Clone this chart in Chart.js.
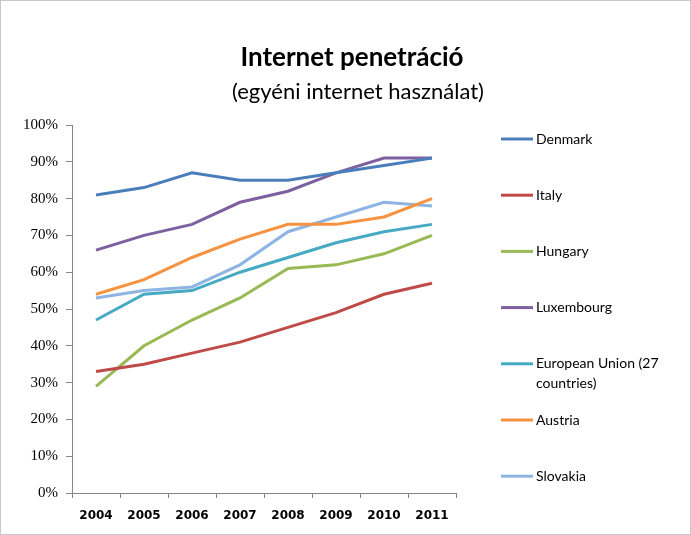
<!DOCTYPE html>
<html>
<head>
<meta charset="utf-8">
<script src="https://cdn.jsdelivr.net/npm/chart.js@4"></script>
<style>
  html, body { margin: 0; padding: 0; background: #fff; }
  #wrap { position: relative; width: 689px; height: 533px; border: 1px solid #c8c8c8; }
</style>
</head>
<body>
<div id="wrap"><canvas id="chart" width="689" height="533"></canvas></div>
<script>
// DATA -----------------------------------------------------------------------

const years = ['2004', '2005', '2006', '2007', '2008', '2009', '2010', '2011']

const denmark    = [81, 83, 87, 85, 85, 87, 89, 91]
const italy      = [33, 35, 38, 41, 45, 49, 54, 57]
const hungary    = [29, 40, 47, 53, 61, 62, 65, 70]
const luxembourg = [66, 70, 73, 79, 82, 87, 91, 91]
const eu27       = [47, 54, 55, 60, 64, 68, 71, 73]
const austria    = [54, 58, 64, 69, 73, 73, 75, 80]
const slovakia   = [53, 55, 56, 62, 71, 75, 79, 78]

const yTicks = [0, 10, 20, 30, 40, 50, 60, 70, 80, 90, 100]

const titleText = 'Internet penetráció'
const subtitleText = '(egyéni internet használat)'

// SETTINGS -------------------------------------------------------------------

const series = [
    {name: 'Denmark', data: denmark, color: '#4A7EBB'},
    {name: 'Italy', data: italy, color: '#BE4B48'},
    {name: 'Hungary', data: hungary, color: '#98B954'},
    {name: 'Luxembourg', data: luxembourg, color: '#7D60A0'},
    {name: 'European Union (27 countries)', data: eu27, color: '#46AAC5'},
    {name: 'Austria', data: austria, color: '#F69240'},
    {name: 'Slovakia', data: slovakia, color: '#8EB4E3'}
]

const fontFamily = 'Lato, "Liberation Sans", sans-serif'
const axisColor = '#868686'

// title block, centred over the whole picture like the original
const titleBlock = {
    id: 'titleBlock',
    afterDraw(chart) {
        const ctx = chart.ctx
        ctx.save()
        ctx.fillStyle = '#000'
        ctx.textAlign = 'center'
        ctx.textBaseline = 'middle'
        ctx.font = `bold 26px ${fontFamily}`
        ctx.fillText(titleText, 351, 57)
        ctx.font = `22px ${fontFamily}`
        ctx.fillText(subtitleText, 357, 91)
        ctx.restore()
    }
}

// legend on the right, one entry per series
const sideLegend = {
    id: 'sideLegend',
    afterDraw(chart) {
        const ctx = chart.ctx
        const area = chart.chartArea
        const x0 = area.right + 45
        const step = 56.2
        ctx.save()
        ctx.font = `14px ${fontFamily}`
        ctx.fillStyle = '#000'
        ctx.textBaseline = 'middle'
        chart.data.datasets.forEach((ds, i) => {
            const y = area.top + 14 + i * step
            ctx.strokeStyle = ds.borderColor
            ctx.lineWidth = 3
            ctx.beginPath()
            ctx.moveTo(x0, y)
            ctx.lineTo(x0 + 32, y)
            ctx.stroke()
            // simple word wrap
            const maxW = 150
            const words = ds.label.split(' ')
            let line = ''
            let ly = y
            words.forEach(w => {
                const test = line ? line + ' ' + w : w
                if (ctx.measureText(test).width > maxW && line) {
                    ctx.fillText(line, x0 + 35, ly)
                    line = w
                    ly += 20
                } else {
                    line = test
                }
            })
            ctx.fillText(line, x0 + 35, ly)
        })
        ctx.restore()
    }
}

// CHART ----------------------------------------------------------------------

new Chart(document.getElementById('chart'), {
    type: 'line',
    data: {
        labels: years,
        datasets: series.map(s => ({
            label: s.name,
            data: s.data,
            borderColor: s.color,
            backgroundColor: s.color,
            borderWidth: 3,
            pointRadius: 0,
            tension: 0
        }))
    },
    options: {
        responsive: false,
        animation: false,
        layout: {
            padding: {left: 9, right: 234, top: 124, bottom: 8}
        },
        plugins: {
            legend: {display: false},
            tooltip: {enabled: false},
            title: {display: false}
        },
        scales: {
            x: {
                offset: true,
                grid: {
                    offset: true,
                    drawOnChartArea: false,
                    drawTicks: true,
                    tickLength: 5,
                    color: axisColor
                },
                border: {color: axisColor, width: 1},
                ticks: {
                    color: '#000',
                    padding: 11,
                    maxRotation: 0,
                    font: {family: '"DejaVu Sans", sans-serif', size: 12, weight: 'bold'}
                },
                afterFit(scale) { scale.height = 33 }
            },
            y: {
                min: 0,
                max: 100,
                afterBuildTicks(scale) { scale.ticks = yTicks.map(v => ({value: v})) },
                grid: {
                    drawOnChartArea: false,
                    drawTicks: true,
                    tickLength: 6,
                    color: axisColor
                },
                border: {color: axisColor, width: 1},
                ticks: {
                    color: '#000',
                    padding: 8,
                    font: {family: '"Liberation Serif", serif', size: 15},
                    callback: v => v + '%'
                },
                afterFit(scale) { scale.width = 62 }
            }
        }
    },
    plugins: [titleBlock, sideLegend]
});
</script>
</body>
</html>
